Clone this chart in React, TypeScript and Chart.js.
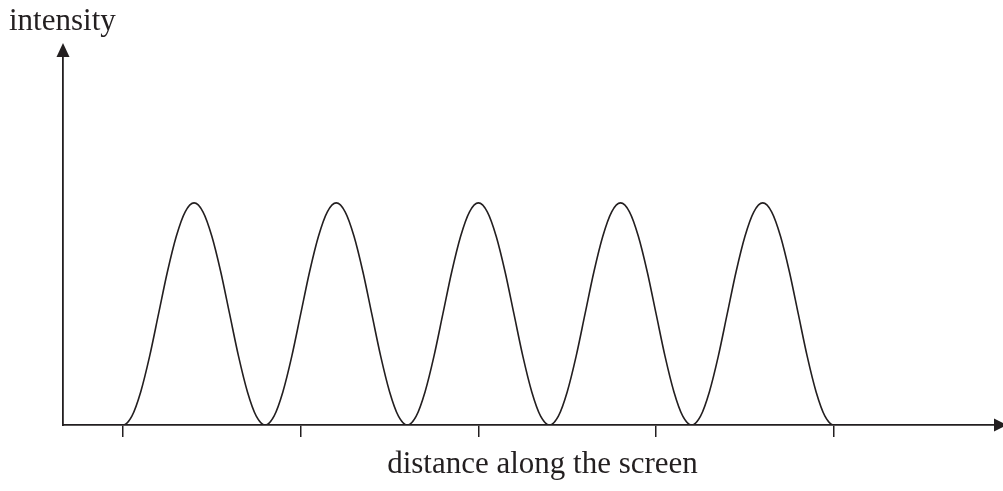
import React, { useEffect, useRef } from "react";
import { Chart, registerables } from "chart.js";

Chart.register(...registerables);

// distance along the screen (in fringe periods)
const distance = [
  -0.4,
  0, 0.0625, 0.125, 0.1875, 0.25, 0.3125, 0.375, 0.4375, 0.5, 0.5625, 0.625, 0.6875, 0.75, 0.8125, 0.875, 0.9375,
  1, 1.0625, 1.125, 1.1875, 1.25, 1.3125, 1.375, 1.4375, 1.5, 1.5625, 1.625, 1.6875, 1.75, 1.8125, 1.875, 1.9375,
  2, 2.0625, 2.125, 2.1875, 2.25, 2.3125, 2.375, 2.4375, 2.5, 2.5625, 2.625, 2.6875, 2.75, 2.8125, 2.875, 2.9375,
  3, 3.0625, 3.125, 3.1875, 3.25, 3.3125, 3.375, 3.4375, 3.5, 3.5625, 3.625, 3.6875, 3.75, 3.8125, 3.875, 3.9375,
  4, 4.0625, 4.125, 4.1875, 4.25, 4.3125, 4.375, 4.4375, 4.5, 4.5625, 4.625, 4.6875, 4.75, 4.8125, 4.875, 4.9375,
  5,
  5.4,
];
// relative intensity
const intensity = [
  0,
  0, 0.04, 0.15, 0.31, 0.5, 0.69, 0.85, 0.96, 1, 0.96, 0.85, 0.69, 0.5, 0.31, 0.15, 0.04,
  0, 0.04, 0.15, 0.31, 0.5, 0.69, 0.85, 0.96, 1, 0.96, 0.85, 0.69, 0.5, 0.31, 0.15, 0.04,
  0, 0.04, 0.15, 0.31, 0.5, 0.69, 0.85, 0.96, 1, 0.96, 0.85, 0.69, 0.5, 0.31, 0.15, 0.04,
  0, 0.04, 0.15, 0.31, 0.5, 0.69, 0.85, 0.96, 1, 0.96, 0.85, 0.69, 0.5, 0.31, 0.15, 0.04,
  0, 0.04, 0.15, 0.31, 0.5, 0.69, 0.85, 0.96, 1, 0.96, 0.85, 0.69, 0.5, 0.31, 0.15, 0.04,
  0,
  0,
];
const tickPositions = [0, 1.25, 2.5, 3.75, 5];
const xRange = [-0.422, 6.19];
const yRange = [0, 1.657];
const yTitle = "intensity";
const xTitle = "distance along the screen";

const INK = "#231f20";
const FONT = "31px 'Liberation Serif', 'Times New Roman', serif";

export default function App() {
  const ref = useRef<HTMLCanvasElement | null>(null);

  useEffect(() => {
    document.body.style.margin = "0";
    const canvas = ref.current;
    if (!canvas) return;

    const decor = {
      id: "decor",
      afterDraw(chart: any) {
        const { ctx, chartArea } = chart;
        const { left, top, right, bottom } = chartArea;
        ctx.save();
        ctx.fillStyle = INK;
        // y arrow head
        ctx.beginPath();
        ctx.moveTo(left, top - 14);
        ctx.lineTo(left - 6.5, top);
        ctx.lineTo(left + 6.5, top);
        ctx.closePath();
        ctx.fill();
        // x arrow head
        ctx.beginPath();
        ctx.moveTo(right + 4, bottom);
        ctx.lineTo(right - 9, bottom - 6.5);
        ctx.lineTo(right - 9, bottom + 6.5);
        ctx.closePath();
        ctx.fill();
        // titles
        ctx.font = FONT;
        ctx.textBaseline = "alphabetic";
        ctx.textAlign = "left";
        ctx.fillText(yTitle, 9, 30);
        ctx.textAlign = "center";
        ctx.fillText(xTitle, 542.5, 473);
        ctx.restore();
      },
    };

    const chart = new Chart(canvas, {
      type: "line",
      data: {
        datasets: [
          {
            data: distance.map((x, i) => ({ x, y: intensity[i] })),
            borderColor: INK,
            borderWidth: 1.6,
            pointRadius: 0,
            fill: false,
            cubicInterpolationMode: "monotone",
          },
        ],
      },
      options: {
        animation: false,
        responsive: false,
        events: [],
        layout: { padding: { left: 63, top: 57, right: 0, bottom: 54 } },
        plugins: {
          legend: { display: false },
          tooltip: { enabled: false },
          title: { display: false },
        },
        scales: {
          x: {
            type: "linear",
            min: xRange[0],
            max: xRange[1],
            afterBuildTicks: (scale: any) => {
              scale.ticks = tickPositions.map((v) => ({ value: v }));
            },
            ticks: { display: false },
            grid: {
              drawOnChartArea: false,
              drawTicks: true,
              tickLength: 12,
              color: INK,
              lineWidth: 1.5,
            },
            border: { display: true, color: INK, width: 1.8 },
          },
          y: {
            type: "linear",
            min: yRange[0],
            max: yRange[1],
            ticks: { display: false },
            grid: { drawOnChartArea: false, drawTicks: false },
            border: { display: true, color: INK, width: 1.8 },
          },
        },
      },
      plugins: [decor],
    } as any);

    return () => chart.destroy();
  }, []);

  return (
    <div style={{ width: 1003, height: 491, background: "#fff" }}>
      <canvas ref={ref} width={1003} height={491} style={{ display: "block" }} />
    </div>
  );
}
